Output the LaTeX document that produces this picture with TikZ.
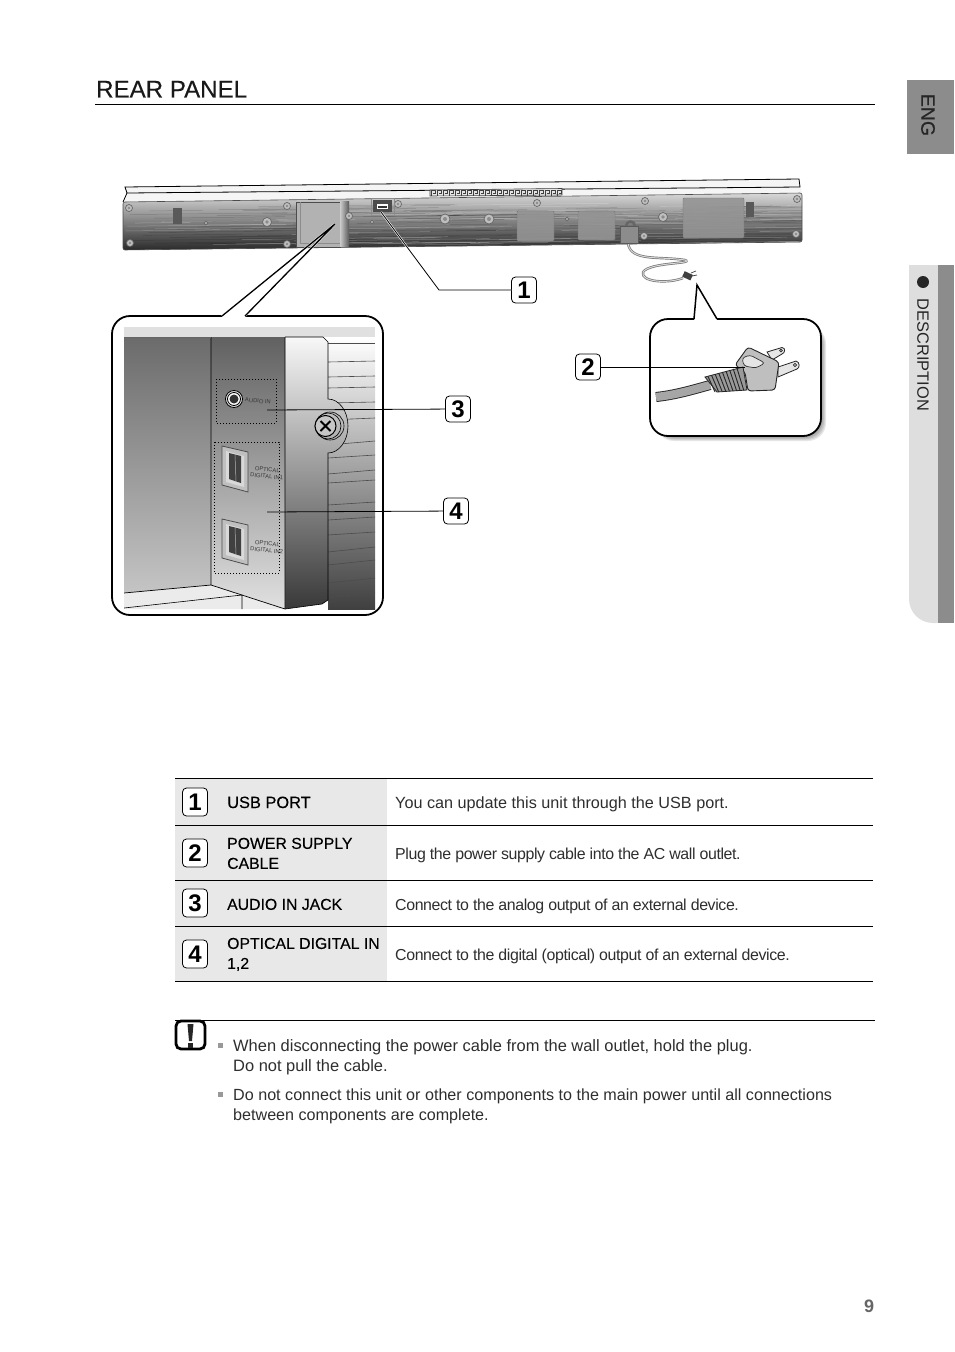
\documentclass[tikz,border=0pt]{standalone}
\usepackage{fontspec}
\setmainfont{Liberation Sans}
\newfontfamily\headfont[FakeBold=0.25]{Liberation Sans}
\usetikzlibrary{positioning,calc}
\definecolor{tabgray}{HTML}{8C8C8C}
\definecolor{tablight}{HTML}{DEDEDE}
\definecolor{rowgray}{HTML}{E8E8E8}
\definecolor{inktext}{HTML}{2E2E2E}
\newcommand{\fs}[1]{\fontsize{#1}{20}\selectfont}
\tikzset{
  badge/.style={draw=black,line width=0.8pt,rounded corners=4pt,fill=white,minimum width=25pt,minimum height=26pt,inner sep=0pt,font=\fs{24}\bfseries},
  rowbadge/.style={badge,minimum height=28pt},
  rowhead/.style={anchor=west,align=left,inner sep=0pt,text=black,font=\headfont\fs{15.8}},
  rowtext/.style={anchor=west,align=left,inner sep=0pt,text=inktext,font=\fs{15.9}\addfontfeature{LetterSpace=-2.4}},
  notetext/.style={anchor=west,align=left,inner sep=0pt,text=inktext,font=\fs{16.45}},
  leader/.style={line width=0.8pt,preaction={draw=white,line width=2pt}},
  tinylabel/.style={inner sep=0pt,align=center,text=black!78,font=\fontsize{5.8}{6.8}\selectfont,rotate=-5},
  dotbox/.style={draw=black,line width=1pt,dash pattern=on 1pt off 2pt},
  optport/.style={draw=black!70,line width=0.8pt,fill=black!25},
  rowrule/.style={line width=0.8pt},
  screw/.style={draw=black!60,line width=0.7pt,fill=black!25}
}
\begin{document}
\begin{tikzpicture}[x=1pt,y=-1pt]
\useasboundingbox (0,0) rectangle (954,1352);

% side tabs
\fill[tabgray] (907,80) rectangle (954,154);
\node[rotate=-90,font=\headfont\fs{19.5},text=black!85,inner sep=0pt] (eng) at (928,115) {ENG};
\fill[tablight,rounded corners=24pt] (909,265) -- (909,623) -- (960,623) -- (960,265) -- cycle;
\fill[tablight] (909,265) rectangle (930,290);
\fill[tabgray] (938,265) rectangle (954,623);
\fill[white] (954,260) rectangle (960,630);
\fill[black!85] (923,282) circle (6);
\node[rotate=-90,font=\fs{16.4},text=black!85,inner sep=0pt] (section) at (923,355) {DESCRIPTION};

% title
\node[anchor=west,inner sep=0pt,font=\headfont\fs{24.1},text=black!90] (title) at (96,89.2) {REAR PANEL};
\draw[line width=0.8pt] (95,104) -- (875,104);

% soundbar
\fill[black!4] (125,187) -- (799,179) -- (802,193) -- (123,202) -- (127,193) -- cycle;
\draw[line width=0.8pt] (123,202) -- (127,193) -- (125,187) -- (799,179) -- (800,187) -- (127,193);
\begin{scope}
\clip[rounded corners=2pt] (123,202) -- (802,193) -- (802,242) -- (123,250) -- cycle;
\shade[top color=black!14,middle color=black!40,bottom color=black!85] (120,192) rectangle (805,251);
\pgfmathsetseed{12}
\foreach \i in {1,...,130} {
  \pgfmathsetmacro{\sx}{123+rnd*660}
  \pgfmathsetmacro{\sy}{206+rnd*40}
  \pgfmathsetmacro{\sl}{40+rnd*160}
  \draw[line width=0.5pt,black,opacity=0.16] (\sx,\sy) -- ({\sx+\sl},{\sy-0.012*\sl});
}
\foreach \i in {1,...,70} {
  \pgfmathsetmacro{\sx}{123+rnd*660}
  \pgfmathsetmacro{\sy}{204+rnd*42}
  \pgfmathsetmacro{\sl}{40+rnd*160}
  \draw[line width=0.5pt,white,opacity=0.25] (\sx,\sy) -- ({\sx+\sl},{\sy-0.012*\sl});
}
\end{scope}
\draw[line width=0.6pt,black!70,rounded corners=2pt] (123,202) -- (802,193) -- (802,242) -- (123,250) -- cycle;

% bar details
\fill[black!30] (296,202) rectangle (340,247);
\draw[black!70,line width=0.5pt] (296,202) rectangle (340,247);
\draw[black!45,line width=0.5pt] (300,202) -- (300,243) -- (340,243);
\shade[left color=black!20,right color=black!65] (340,201) rectangle (349,246);
\foreach \x/\y/\w/\h in {517/211/37/30,578/211/37/29,683/198/61/40} {
  \fill[black!42,opacity=0.9,rounded corners=1pt] (\x,\y) rectangle ++(\w,\h);
  \draw[black!55,line width=0.4pt,rounded corners=1pt] (\x,\y) rectangle ++(\w,\h);
}
\fill[black!65] (173,208) rectangle (182,224);
\fill[black!65] (746,202) rectangle (754,217);
\foreach \x/\y/\r in {129/208/3.5,287/206/3.5,130/243/3.5,287/244/3.5,267/222/4.5,206/223/1.8,349/216/3.5,398/204/3.5,372/222/1.8,445/219/5,489/219/5,537/203/3.5,645/201/3.5,663/217/4.5,567/219/1.8,644/236/3.5,797/199/3.5,796/234/3.5} {
  \draw[screw] (\x,\y) circle (\r);
  \fill[black!45] (\x,\y) circle (\r*0.4);
}

% port strip on top of the bar
\draw[black!75,line width=0.6pt,fill=black!10] (430,190) -- (562,188.5) -- (562,195) -- (430,196) -- cycle;
\foreach \i in {0,...,21} {
  \draw[black!75,line width=0.5pt] ({431+6*\i},195.6) -- ({431+6*\i},190.6) -- ({435+6*\i},190.6) -- ({435+6*\i},193.6) -- ({433+6*\i},193.6);
}

% usb port
\fill[black!70] (373,200) rectangle (392,212);
\draw[black!45,line width=0.6pt] (371,198) rectangle (394,215);
\fill[white] (377,204) rectangle (388,209);
\fill[black!80] (378,206) rectangle (387,208);

% power cable on the bar
\draw[black!60,line width=2.5pt] (626,226) arc[start angle=180,end angle=360,radius=4.5];
\draw[black!55,line width=2.4pt] (628,243) .. controls (630,262) and (660,256) .. (685,260) .. controls (695,264) and (650,262) .. (643,272) .. controls (640,282) and (668,284) .. (683,278);
\draw[black!15,line width=1pt] (628,243) .. controls (630,262) and (660,256) .. (685,260) .. controls (695,264) and (650,262) .. (643,272) .. controls (640,282) and (668,284) .. (683,278);
\fill[black!45,draw=black!65,line width=0.5pt] (620,226) -- (638,226) -- (638,243) -- (620,243) -- cycle;
\fill[black!75,rotate around={-25:(688,276)}] (683,273) rectangle (692,279);
\draw[black!75,line width=0.7pt] (691,273) -- (696,271) (692,276) -- (697,275);

% right callout
\coordinate (cordtip) at (697,285);
\foreach \s in {0,...,5} {
  \fill[black,opacity=0.09,rounded corners=18pt] (656,326) rectangle ({821+\s},{436+\s});
}
\draw[line width=1.8pt,fill=white,rounded corners=18pt] (694,319) -- (650,319) -- (650,436) -- (821,436) -- (821,319) -- (717,319);
\fill[white] (694.8,318) -- (697,288) -- (716,318) -- (716,321) -- (695,321) -- cycle;
\draw[line width=1.5pt] (694,319) -- (cordtip) -- (717,319);

% plug
\draw[line width=10pt,black!85,line cap=butt] (656,397) .. controls (675,395) and (692,390) .. (710,385);
\draw[line width=8.2pt,black!35,line cap=butt] (656,397) .. controls (675,395) and (692,390) .. (710,385);
\draw[draw=black!85,line width=0.8pt,fill=black!10] (767,352) -- (782,347.5) .. controls (786,348) and (785,353) .. (782,354) -- (772,360) -- cycle;
\draw[draw=black!85,line width=0.8pt,fill=black!10] (778,367) -- (796,361) .. controls (800,362) and (800,368) .. (797,369) -- (778,377) -- cycle;
\draw[black!85,line width=0.7pt] (781,350.5) circle (1.4) (795,365) circle (1.6);
\draw[draw=black!85,line width=0.9pt,fill=black!25,rounded corners=3pt] (735,365) -- (748,347) -- (779,362) -- (775,390) -- (748,391) -- (745,372) -- cycle;
\draw[draw=black!80,line width=0.7pt,fill=black!10,rounded corners=3pt] (742,358) -- (750,355) -- (765,363) -- (756,368) -- (744,366) -- cycle;
\draw[draw=black!85,line width=0.8pt,fill=black!40] (705,377) -- (743,367) -- (747,390) -- (717,392) -- cycle;
\foreach \i in {0,...,8} {
  \draw[black!85,line width=0.9pt] ({708+3.6*\i},{376.5-1.1*\i}) -- ({715+3.6*\i},{392-0.2*\i});
}

% inset
\begin{scope}
\clip (124,327) rectangle (375,609);
\fill[black!12] (124,327) rectangle (375,337);
\shade[top color=black!58,bottom color=black!22] (124,337) rectangle (211,600);
\fill[black!8] (124,593) -- (211,585) -- (285,609) -- (124,609) -- cycle;
\shade[top color=white,middle color=black!15,bottom color=black!75] (328,337) rectangle (375,609);
\foreach \a/\b in {343/343,362/361,377/376,388/387,403/402,420/418,445/441,458/455,474/470,483/480,505/502,520/517,535/532,552/547,565/560,583/578,598/592} {
  \draw[black!70,line width=0.6pt] (328,\a) -- (375,\b);
}
\shade[top color=black!3,middle color=black!32,bottom color=black!78] (285,337) -- (323,337) -- (328,342) -- (328,399) arc[start angle=-90,end angle=90,x radius=20,y radius=27] -- (328,600) -- (322,604) -- (285,609) -- cycle;
\draw[black,line width=0.6pt] (285,337) -- (323,337) -- (328,342) -- (328,399) arc[start angle=-90,end angle=90,x radius=20,y radius=27] -- (328,600) -- (322,604) -- (285,609);
\shade[top color=black!62,bottom color=black!12] (211,337) -- (285,337) -- (285,609) -- (211,585) -- cycle;
\draw[black,line width=0.7pt] (211,337) -- (211,585) -- (285,609) -- (285,337);
\draw[black,line width=0.7pt] (124,593) -- (211,585);
\draw[black,line width=0.6pt] (124,608) -- (242,595) -- (242,609);
\draw[black!60,line width=0.5pt] (124,337) -- (211,337);
\end{scope}

% screw on the inset
\draw[line width=0.6pt] (330,426) circle (14);
\draw[line width=0.6pt] (328,426) circle (13);
\draw[line width=1pt,fill=black!22] (325.5,426) circle (10.5);
\draw[line width=1.8pt] (320.5,421) -- (330.5,431) (330.5,421) -- (320.5,431);

% connectors in the inset
\draw[dotbox] (216,379) rectangle (276,423);
\draw[dotbox] (214,442) rectangle (279,573);
\draw[line width=0.8pt,fill=black!12] (234,399) circle (8.5);
\draw[line width=0.8pt,fill=white] (234,399) circle (6.5);
\fill[black!80] (234,399) circle (4.5);
\node[tinylabel] (audiolabel) at (258,401) {AUDIO IN};
\foreach \t/\n in {446/1,519/2} {
  \draw[optport] (222,\t) -- (248,\t+6) -- (248,\t+46) -- (222,\t+39) -- cycle;
  \fill[white!85!black] (226,\t+5) -- (244,\t+10) -- (244,\t+41) -- (226,\t+36) -- cycle;
  \fill[black!75] (229,\t+7) -- (241,\t+10) -- (241,\t+37) -- (229,\t+33) -- cycle;
  \draw[black!30,line width=0.5pt] (235,\t+9) -- (236,\t+35);
}
\node[tinylabel] (opticalone) at (267,473) {OPTICAL\\DIGITAL IN1};
\node[tinylabel] (opticaltwo) at (267,547) {OPTICAL\\DIGITAL IN2};

% left callout
\coordinate (panelpoint) at (335,224);
\draw[line width=1.8pt,rounded corners=18pt] (245,316) -- (383,316) -- (383,615) -- (112,615) -- (112,316) -- (222,316);
\draw[leader,line width=1.3pt] (222,316) -- (panelpoint) -- (245,316);

% callout numbers
\node[badge] (one) at (524,290) {1};
\node[badge] (two) at (588,367) {2};
\node[badge] (three) at (458,409) {3};
\node[badge] (four) at (456,511) {4};
\coordinate (usbpoint) at (381,212);
\coordinate (usbbend) at (439,290);
\coordinate (plugpoint) at (745,367);
\coordinate (audiopoint) at (267,410);
\coordinate (opticalpoint) at (267,512);
\draw[leader] (usbpoint) -- (usbbend) -- (one);
\draw[line width=0.8pt] (two) -- (plugpoint);
\draw[line width=0.8pt] (three) -- (audiopoint);
\draw[line width=0.8pt] (four) -- (opticalpoint);

% table
\fill[rowgray] (175,778) rectangle (387,981);
\foreach \y in {778,825,880,926,981} {
  \draw[rowrule] (175,\y) -- (873,\y);
}
\node[rowbadge] (rowone) at (195,802) {1};
\node[rowbadge] (rowtwo) at (195,853) {2};
\node[rowbadge] (rowthree) at (195,903) {3};
\node[rowbadge] (rowfour) at (195,954) {4};
\node[rowhead,font=\headfont\fs{16.4}] (headone) at (227,802.4) {USB PORT};
\node[rowhead] (headtwo) at (227,853.4) {POWER SUPPLY\\CABLE};
\node[rowhead] (headthree) at (227,904.4) {AUDIO IN JACK};
\node[rowhead] (headfour) at (227,954.4) {OPTICAL DIGITAL IN\\1,2};
\node[rowtext,font=\fs{16.2}] (textone) at (395,804) {You can update this unit through the USB port.};
\node[rowtext] (texttwo) at (395,855) {Plug the power supply cable into the AC wall outlet.};
\node[rowtext] (textthree) at (395,906) {Connect to the analog output of an external device.};
\node[rowtext] (textfour) at (395,956) {Connect to the digital (optical) output of an external device.};

% note
\draw[line width=0.8pt] (175,1020) -- (875,1020);
\node[draw=black,fill=white,line width=2.8pt,rounded corners=5pt,minimum width=29pt,minimum height=28pt,inner sep=0pt] (noteicon) at (190.5,1035) {};
\fill[black!85] (187.5,1024) -- (193.5,1024) -- (192,1041) -- (189,1041) -- cycle;
\fill[black!85] (188,1043) rectangle (193,1048);
\foreach \y in {1045,1094} {
  \fill[black!40] (218,\y-2.5) rectangle (223,\y+2.5);
}
\node[notetext] (noteone) at (233,1057) {When disconnecting the power cable from the wall outlet, hold the plug.\\Do not pull the cable.};
\node[notetext,font=\fs{16.13}] (notetwo) at (233,1106) {Do not connect this unit or other components to the main power until all connections\\between components are complete.};

% page number
\node[inner sep=0pt,font=\fs{18}\bfseries,text=black!60] (pagenumber) at (869,1306) {9};
\end{tikzpicture}
\end{document}
